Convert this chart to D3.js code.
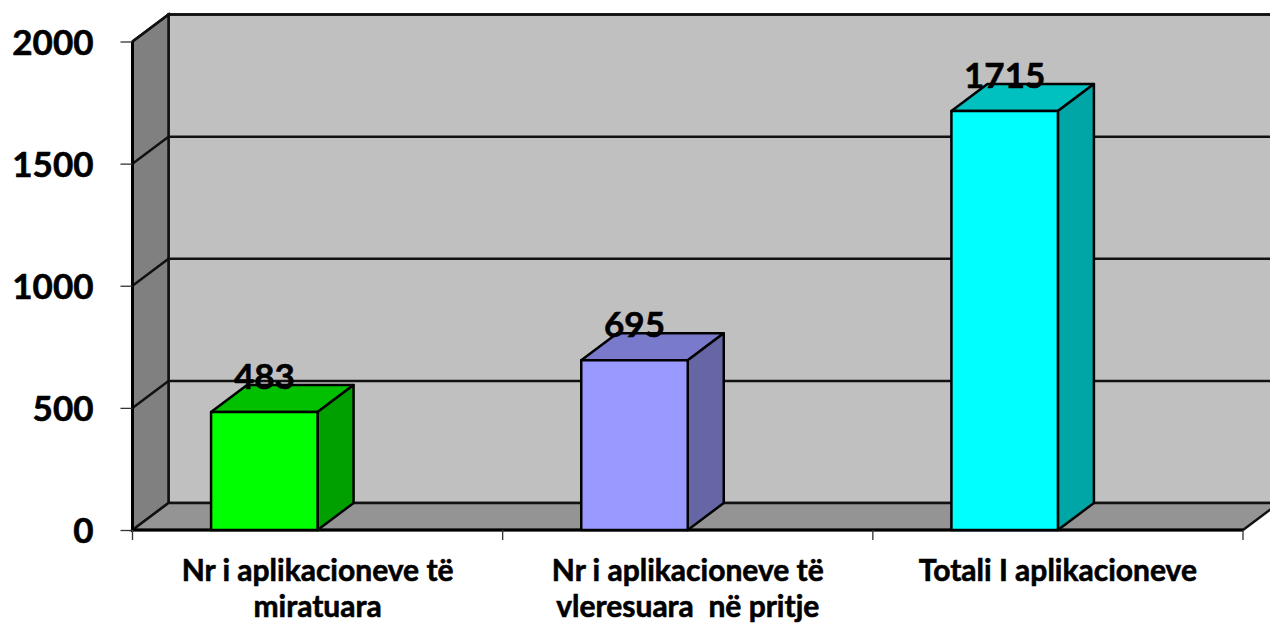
<!DOCTYPE html>
<html>
<head>
<meta charset="utf-8">
<script src="https://cdn.jsdelivr.net/npm/d3@7"></script>
<style>
  html, body { margin: 0; padding: 0; background: #fff; overflow: hidden; }
  text { font-family: Lato, "Open Sans", sans-serif; font-weight: 700; fill: #000; stroke: #000; stroke-width: 0.6px; }
</style>
</head>
<body>
<div id="chart"></div>
<script>
// Chart data
const categories = ["Nr i aplikacioneve të miratuara", "Nr i aplikacioneve të vleresuara  në pritje", "Totali I aplikacioneve"];
const categoryLines = [["Nr i aplikacioneve të", "miratuara"], ["Nr i aplikacioneve të", "vleresuara  në pritje"], ["Totali I aplikacioneve"]];
const values = [483, 695, 1715];
const yTicks = [0, 500, 1000, 1500, 2000];
const frontColors = ["#00ff00", "#9999ff", "#00ffff"];
const topColors = ["#00c000", "#7a7acc", "#00c0c0"];
const sideColors = ["#00a000", "#6666a5", "#00a5a5"];

const width = 1270, height = 623;
const margin = { left: 132.5, right: 27, top: 41.5, bottom: 93 };
const depthX = 36, depthY = 27; // oblique 3D offset

const svg = d3.select("#chart").append("svg")
    .attr("width", width)
    .attr("height", height)
    .style("display", "block");

const x = d3.scaleBand()
    .domain(categories)
    .range([margin.left, width - margin.right]);

const y = d3.scaleLinear()
    .domain([0, 2000])
    .range([height - margin.bottom, margin.top]);

const x0 = x.range()[0], x1 = x.range()[1];
const barWidth = 106.5;

const poly = pts => pts.map(p => p.join(",")).join(" ");

// Walls and floor
const walls = svg.append("g").attr("stroke", "#111");

walls.append("polygon")
    .attr("points", poly([[x0 + depthX, y(2000) - depthY], [x1 + depthX, y(2000) - depthY], [x1 + depthX, y(0) - depthY], [x0 + depthX, y(0) - depthY]]))
    .attr("fill", "#c0c0c0")
    .attr("stroke-width", 2.5);

walls.append("polygon")
    .attr("points", poly([[x0, y(2000)], [x0 + depthX, y(2000) - depthY], [x0 + depthX, y(0) - depthY], [x0, y(0)]]))
    .attr("fill", "#808080")
    .attr("stroke-width", 2.5);

walls.append("polygon")
    .attr("points", poly([[x0, y(0)], [x0 + depthX, y(0) - depthY], [x1 + depthX, y(0) - depthY], [x1, y(0)]]))
    .attr("fill", "#949494")
    .attr("stroke-width", 2.5);

// Gridlines running along the left wall and the back wall
walls.selectAll(".grid")
    .data(yTicks.slice(1))
    .enter()
    .append("polyline")
    .attr("class", "grid")
    .attr("points", d => poly([[x0, y(d)], [x0 + depthX, y(d) - depthY], [x1 + depthX, y(d) - depthY]]))
    .attr("fill", "none")
    .attr("stroke-width", 2.5);

// Front edges of the left wall and the floor
svg.append("path")
    .attr("d", `M${x0},${y(2000)}V${y(0)}H${x1}`)
    .attr("fill", "none")
    .attr("stroke", "#000")
    .attr("stroke-width", 3);

// Axes
const yAxis = d3.axisLeft(y).tickValues(yTicks).tickFormat(d3.format("d")).tickSize(12).tickPadding(27);
const yG = svg.append("g")
    .attr("transform", `translate(${x0},0)`)
    .call(yAxis);
yG.select(".domain").remove();
yG.selectAll("line").attr("stroke", "#333").attr("stroke-width", 1.3);
yG.selectAll("text")
    .attr("dy", "0.36em")
    .style("font-size", "35px")
    .style("font-family", "Lato, sans-serif");

const xTickPositions = [0, 1, 2, 3].map(i => x0 + i * x.step());
svg.append("g")
    .selectAll("line")
    .data(xTickPositions)
    .enter()
    .append("line")
    .attr("x1", d => d)
    .attr("x2", d => d)
    .attr("y1", y(0))
    .attr("y2", y(0) + 10)
    .attr("stroke", "#333")
    .attr("stroke-width", 1.3);

svg.append("g")
    .selectAll("text")
    .data(categories)
    .enter()
    .append("text")
    .attr("text-anchor", "middle")
    .style("font-size", "30px")
    .style("white-space", "pre")
    .each(function (d, i) {
        d3.select(this).selectAll("tspan")
            .data(categoryLines[i])
            .enter()
            .append("tspan")
            .attr("x", x(d) + x.bandwidth() / 2)
            .attr("y", (l, j) => 581 + j * 36)
            .text(l => l);
    });

// Bars: each one ends at the centre of its band
const bars = svg.append("g")
    .selectAll("g")
    .data(values)
    .enter()
    .append("g")
    .attr("stroke", "#000")
    .attr("stroke-width", 2.5)
    .attr("stroke-linejoin", "round");

const barLeft = i => x(categories[i]) + x.bandwidth() / 2 - barWidth;

bars.append("polygon")
    .attr("points", (d, i) => {
        const l = barLeft(i), r = l + barWidth;
        return poly([[l, y(d)], [l + depthX, y(d) - depthY], [r + depthX, y(d) - depthY], [r, y(d)]]);
    })
    .attr("fill", (d, i) => topColors[i]);

bars.append("polygon")
    .attr("points", (d, i) => {
        const r = barLeft(i) + barWidth;
        return poly([[r, y(d)], [r + depthX, y(d) - depthY], [r + depthX, y(0) - depthY], [r, y(0)]]);
    })
    .attr("fill", (d, i) => sideColors[i]);

bars.append("rect")
    .attr("x", (d, i) => barLeft(i))
    .attr("y", d => y(d))
    .attr("width", barWidth)
    .attr("height", d => y(0) - y(d))
    .attr("fill", (d, i) => frontColors[i]);

// Value labels
svg.append("g")
    .selectAll("text")
    .data(values)
    .enter()
    .append("text")
    .attr("x", (d, i) => barLeft(i) + barWidth / 2)
    .attr("y", d => y(d) - 23)
    .attr("text-anchor", "middle")
    .style("font-size", "35px")
    .text(d => d);
</script>
</body>
</html>
